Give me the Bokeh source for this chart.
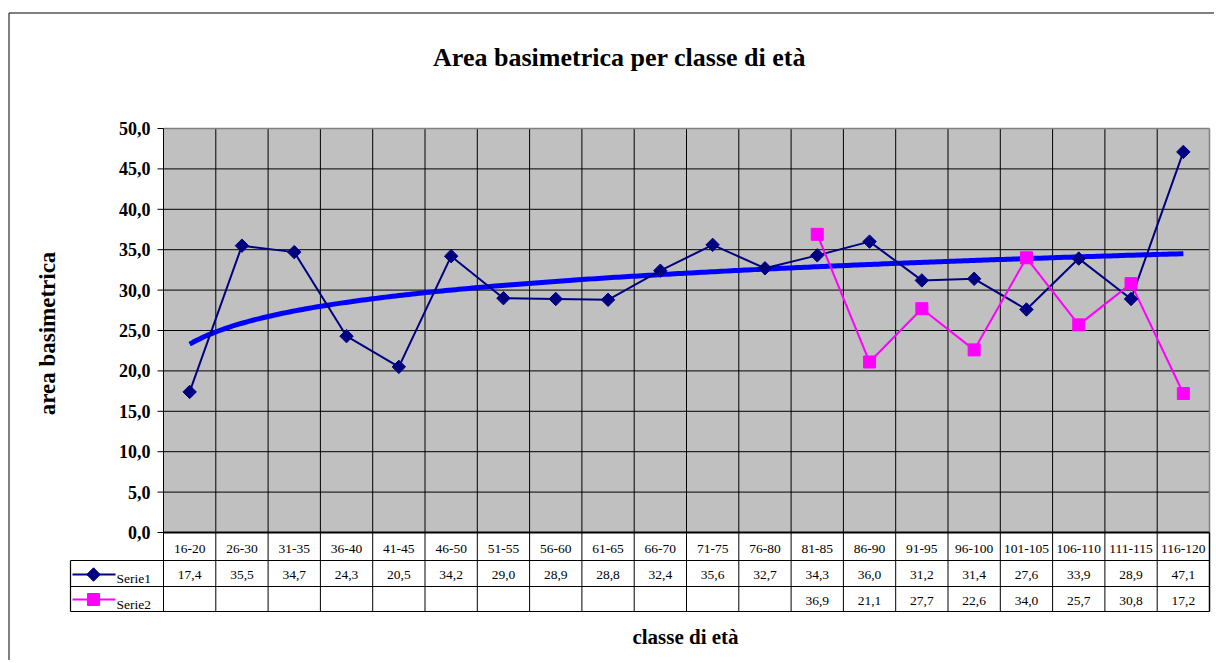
import numpy as np
from bokeh.plotting import figure
from bokeh.models import Range1d
from bokeh.core.properties import value
from bokeh.embed import file_html
from bokeh.resources import INLINE

# ---------------- data ----------------
categories = ["16-20", "26-30", "31-35", "36-40", "41-45", "46-50", "51-55", "56-60",
              "61-65", "66-70", "71-75", "76-80", "81-85", "86-90", "91-95", "96-100",
              "101-105", "106-110", "111-115", "116-120"]
serie1 = [17.4, 35.5, 34.7, 24.3, 20.5, 34.2, 29.0, 28.9, 28.8, 32.4,
          35.6, 32.7, 34.3, 36.0, 31.2, 31.4, 27.6, 33.9, 28.9, 47.1]
serie2_categories = ["81-85", "86-90", "91-95", "96-100", "101-105", "106-110", "111-115", "116-120"]
serie2 = [36.9, 21.1, 27.7, 22.6, 34.0, 25.7, 30.8, 17.2]
y_ticks = [0, 5, 10, 15, 20, 25, 30, 35, 40, 45, 50]
series_names = ["Serie1", "Serie2"]
title_text = "Area basimetrica per classe di età"
y_title = "area basimetrica"
x_title = "classe di età"

# ---------------- layout helpers (pixel -> data) ----------------
W, H = 1214, 660
LEFT, TOP = 0, 0
PLOT_L, PLOT_R = 163, 1209
PLOT_T, PLOT_B = 128, 532
n = len(categories)
Y_MAX = y_ticks[-1]
cw = (PLOT_R - PLOT_L) / n
ch = (PLOT_B - PLOT_T) / Y_MAX


def dx(px):
    return 0.5 + (px - PLOT_L) / cw


def dy(py):
    return (PLOT_B - py) / ch


FONT = value("Liberation Serif")
NAVY = "#000080"
MAGENTA = "#FF00FF"
TREND = "#0000FF"

p = figure(width=W, height=H,
           x_range=Range1d(dx(LEFT), dx(LEFT + W)),
           y_range=Range1d(dy(TOP + H), dy(TOP)),
           x_axis_location=None, y_axis_location=None,
           min_border=0, toolbar_location=None, output_backend="svg")
p.grid.visible = False
p.outline_line_color = None
p.background_fill_color = "white"
p.border_fill_color = "white"

x_idx = np.arange(1, n + 1)
cat_pos = {c: i + 1 for i, c in enumerate(categories)}
x2 = np.array([cat_pos[c] for c in serie2_categories])

# plot area background
p.quad(left=[0.5], right=[n + 0.5], bottom=[0], top=[Y_MAX],
       fill_color="#C0C0C0", line_color=None)

# horizontal gridlines
hg = [t for t in y_ticks if 0 < t < Y_MAX]
p.segment(x0=[0.5] * len(hg), x1=[n + 0.5] * len(hg), y0=hg, y1=hg,
          line_color="black", line_width=1)
# vertical gridlines (through plot and table)
vb = [i + 0.5 for i in range(1, n)]
p.segment(x0=vb, x1=vb, y0=[dy(611)] * len(vb), y1=[Y_MAX] * len(vb),
          line_color="black", line_width=1)
# plot border
p.segment(x0=[0.5], x1=[n + 0.5], y0=[Y_MAX], y1=[Y_MAX], line_color="#808080", line_width=1.5)
p.segment(x0=[n + 0.5], x1=[n + 0.5], y0=[0], y1=[Y_MAX], line_color="#808080", line_width=1.5)
p.segment(x0=[n + 0.5], x1=[n + 0.5], y0=[dy(611)], y1=[0], line_color="black", line_width=1.5)
p.segment(x0=[0.5], x1=[0.5], y0=[dy(611)], y1=[Y_MAX], line_color="black", line_width=1)
p.segment(x0=[0.5], x1=[n + 0.5], y0=[0], y1=[0], line_color="black", line_width=2)

# y ticks and labels
p.segment(x0=[dx(157)] * len(y_ticks), x1=[0.5] * len(y_ticks), y0=y_ticks, y1=y_ticks,
          line_color="black", line_width=1)
p.text(x=[dx(150)] * len(y_ticks), y=y_ticks,
       text=[f"{t:.1f}".replace(".", ",") for t in y_ticks],
       text_align="right", text_baseline="middle", text_font=FONT,
       text_font_style="bold", text_font_size="18px", text_color="black")

# trend line (logarithmic least squares fit of Serie1, as in the original)
a, b = np.polyfit(np.log(x_idx), np.array(serie1), 1)
xt = np.linspace(1, n, 300)
p.line(xt, a * np.log(xt) + b, line_color=TREND, line_width=5)

# series
p.line(x_idx, serie1, line_color=NAVY, line_width=2)
p.line(x2, serie2, line_color=MAGENTA, line_width=2)
p.scatter(x_idx, serie1, marker="square", angle=np.pi / 4, size=9.5,
          fill_color=NAVY, line_color=NAVY)
p.scatter(x2, serie2, marker="square", size=12, fill_color=MAGENTA, line_color=MAGENTA)

# data table
rows_y = [dy(560), dy(586), dy(611)]
p.segment(x0=[dx(70)] * 3, x1=[n + 0.5] * 3, y0=rows_y, y1=rows_y, line_color="black", line_width=1.2)
p.segment(x0=[dx(70)], x1=[dx(70)], y0=[dy(611)], y1=[dy(560)], line_color="black", line_width=1.2)

tbl_kw = dict(text_align="center", text_baseline="middle", text_font=FONT,
              text_font_size="13.5px", text_color="black")
p.text(x=x_idx, y=[dy(548)] * n, text=categories, **tbl_kw)
p.text(x=x_idx, y=[dy(574)] * n, text=[f"{v:.1f}".replace(".", ",") for v in serie1], **tbl_kw)
p.text(x=x2, y=[dy(600)] * len(x2), text=[f"{v:.1f}".replace(".", ",") for v in serie2], **tbl_kw)

# legend keys in table
p.segment(x0=[dx(72)], x1=[dx(115)], y0=[dy(574)], y1=[dy(574)], line_color=NAVY, line_width=2)
p.scatter([dx(93)], [dy(574)], marker="square", angle=np.pi / 4, size=9.5,
          fill_color=NAVY, line_color=NAVY)
p.segment(x0=[dx(72)], x1=[dx(115)], y0=[dy(599)], y1=[dy(599)], line_color=MAGENTA, line_width=2)
p.scatter([dx(93)], [dy(599)], marker="square", size=12, fill_color=MAGENTA, line_color=MAGENTA)
p.text(x=[dx(116)] * 2, y=[dy(578), dy(604)], text=series_names,
       text_align="left", text_baseline="middle", text_font=FONT,
       text_font_size="13.5px", text_color="black")

# titles
p.text(x=[dx(619)], y=[dy(57)], text=[title_text], text_align="center", text_baseline="middle",
       text_font=FONT, text_font_style="bold", text_font_size="26px", text_color="black")
p.text(x=[dx(47)], y=[dy(333)], text=[y_title], angle=np.pi / 2, text_align="center",
       text_baseline="middle", text_font=FONT, text_font_style="bold",
       text_font_size="23px", text_color="black")
p.text(x=[dx(685)], y=[dy(636)], text=[x_title], text_align="center", text_baseline="middle",
       text_font=FONT, text_font_style="bold", text_font_size="21px", text_color="black")

# outer chart border (left and top edges)
p.segment(x0=[dx(8.5)], x1=[dx(8.5)], y0=[dy(TOP + H)], y1=[dy(12.5)], line_color="black", line_width=1)
p.segment(x0=[dx(8.5)], x1=[dx(LEFT + W)], y0=[dy(12.5)], y1=[dy(12.5)], line_color="black", line_width=1)

open("out.html", "w").write(file_html(p, INLINE))
